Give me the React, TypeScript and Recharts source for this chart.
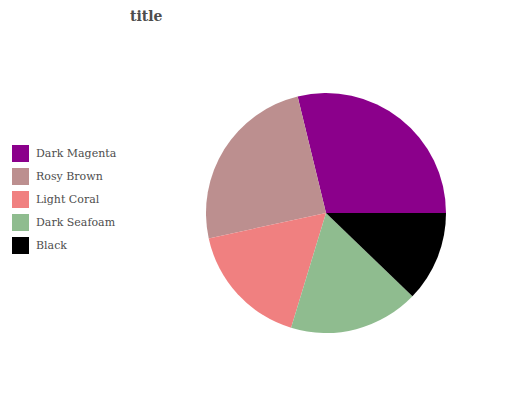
import React from "react";
import { PieChart, Pie, Cell, Legend } from "recharts";

const NAMES = ["Dark Magenta", "Rosy Brown", "Light Coral", "Dark Seafoam", "Black"];
const VALUES = [28.8, 24.6, 16.9, 17.5, 12.2];
const COLORS = ["#8b008b", "#bc8f8f", "#f08080", "#8fbc8f", "#000000"];

const data = NAMES.map((name, i) => ({ name, value: VALUES[i] }));

const FONT = "'DejaVu Serif', serif";

// vertical legend with square swatches, matched to the reference spacing
function renderLegend() {
  return (
    <div style={{ fontFamily: FONT }}>
      {NAMES.map((name, i) => (
        <div key={name} style={{ display: "flex", alignItems: "center", height: 23 }}>
          <div style={{ width: 17, height: 17, background: COLORS[i] }} />
          <span style={{ marginLeft: 7, fontSize: 11, color: "#4d4d4d" }}>{name}</span>
        </div>
      ))}
    </div>
  );
}

export default function App() {
  return (
    <div style={{ position: "absolute", left: 0, top: 0, width: 532, height: 400, background: "#fff" }}>
      <div
        style={{
          position: "absolute",
          left: 130,
          top: 8,
          fontFamily: FONT,
          fontWeight: "bold",
          fontSize: 14,
          color: "#4d4d4d",
        }}
      >
        title
      </div>
      <PieChart width={532} height={400} margin={{ top: 0, right: 0, bottom: 0, left: 0 }}>
        <Pie
          data={data}
          dataKey="value"
          nameKey="name"
          cx={326}
          cy={213}
          outerRadius={120}
          startAngle={0}
          endAngle={360}
          stroke="none"
          isAnimationActive={false}
        >
          {data.map((d, i) => (
            <Cell key={d.name} fill={COLORS[i]} />
          ))}
        </Pie>
        <Legend
          content={renderLegend}
          layout="vertical"
          wrapperStyle={{ position: "absolute", left: 12, top: 142, width: 130 }}
        />
      </PieChart>
    </div>
  );
}
